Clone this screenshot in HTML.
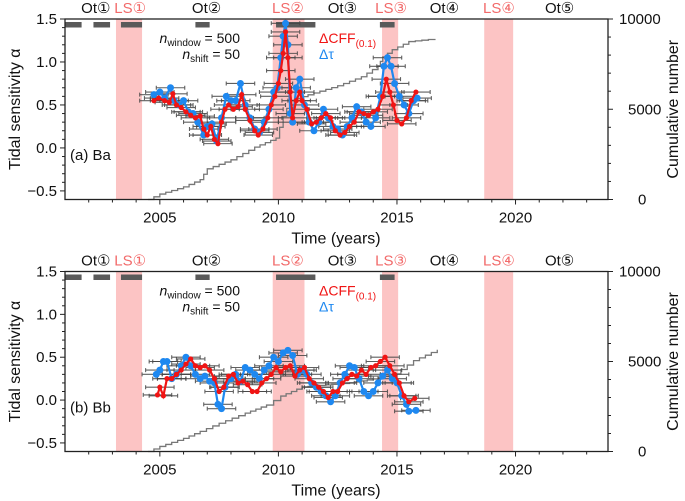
<!DOCTYPE html>
<html><head><meta charset="utf-8">
<style>
html,body{margin:0;padding:0;background:#fff;}
svg{display:block;font-family:"Liberation Sans",sans-serif;}
</style></head>
<body>
<svg id="fig" width="685" height="501" viewBox="0 0 685 501"></svg>
<script>
const xDomain = [2001.0, 2023.9];
const yDomain = [-0.6, 1.5];
const cumDomain = [0, 10000];
const yTicks = [1.5, 1.0, 0.5, 0.0, -0.5];
const yTickLabels = ["1.5", "1.0", "0.5", "0.0", "\u22120.5"];
const xTicks = [2005, 2010, 2015, 2020];
const cumTicks = [10000, 5000, 0];
const lsSpans = [[2003.15, 2004.25], [2009.76, 2011.1], [2014.37, 2015.05], [2018.68, 2019.9]];
const grayBars = [[2001.0, 2001.7], [2002.2, 2002.9], [2003.36, 2004.25], [2006.5, 2007.1], [2009.9, 2011.56], [2014.28, 2014.9]];
const periodNames = ["Ot\u2460", "LS\u2460", "Ot\u2461", "LS\u2461", "Ot\u2462", "LS\u2462", "Ot\u2463", "LS\u2463", "Ot\u2464"];
const periodYears = [2002.3, 2003.75, 2006.97, 2010.4, 2012.7, 2014.75, 2017.0, 2019.3, 2021.86];
const errHalf = 0.6;

const cumA_t = [2004.5, 2005.0, 2006.0, 2006.7, 2007.0, 2008.0, 2009.0, 2009.9, 2010.2, 2010.5, 2011.5, 2012.5, 2013.5, 2014.2, 2014.4, 2014.8, 2015.5, 2016.6];
const cumA_v = [0, 300, 700, 1100, 1700, 2200, 2900, 3400, 4600, 5500, 5900, 6300, 6800, 7400, 7900, 8300, 8750, 8900];
const cumB_t = [2004.5, 2005.0, 2006.0, 2006.7, 2007.5, 2008.6, 2009.5, 2010.1, 2011.0, 2012.0, 2013.0, 2014.0, 2014.9, 2015.7, 2016.7];
const cumB_v = [0, 280, 730, 1120, 1570, 2130, 2580, 3080, 3590, 3700, 3810, 4030, 4310, 5050, 5650];

const redA_t = [2004.75,2004.95,2005.2,2005.4,2005.55,2005.7,2005.9,2006.1,2006.3,2006.5,2006.7,2006.85,2007.0,2007.15,2007.3,2007.45,2007.6,2007.75,2007.9,2008.1,2008.3,2008.45,2008.6,2008.8,2009.0,2009.15,2009.35,2009.55,2009.7,2009.85,2010.0,2010.1,2010.2,2010.3,2010.4,2010.5,2010.6,2010.75,2010.9,2011.0,2011.2,2011.4,2011.6,2011.8,2012.0,2012.2,2012.4,2012.6,2012.8,2013.0,2013.2,2013.4,2013.6,2013.8,2014.0,2014.2,2014.4,2014.55,2014.7,2014.85,2015.0,2015.2,2015.4,2015.6,2015.8];
const redA_v = [0.55,0.58,0.55,0.53,0.63,0.50,0.47,0.42,0.38,0.35,0.37,0.22,0.15,0.25,0.10,0.05,0.30,0.45,0.50,0.45,0.48,0.62,0.45,0.32,0.20,0.15,0.22,0.35,0.50,0.60,0.75,0.90,1.10,1.35,1.05,0.65,0.35,0.55,0.65,0.55,0.45,0.28,0.30,0.35,0.40,0.35,0.20,0.15,0.18,0.25,0.30,0.42,0.40,0.38,0.42,0.45,0.60,0.80,0.65,0.50,0.32,0.28,0.35,0.55,0.65];
const blueA_t = [2004.75,2005.0,2005.2,2005.45,2005.6,2005.8,2006.0,2006.2,2006.4,2006.6,2006.85,2007.0,2007.2,2007.4,2007.6,2007.8,2008.0,2008.2,2008.4,2008.6,2008.8,2009.0,2009.2,2009.4,2009.6,2009.8,2009.95,2010.1,2010.2,2010.3,2010.4,2010.5,2010.6,2010.75,2010.9,2011.1,2011.3,2011.5,2011.7,2011.9,2012.1,2012.3,2012.5,2012.7,2012.9,2013.1,2013.3,2013.5,2013.7,2013.9,2014.1,2014.3,2014.45,2014.6,2014.75,2014.9,2015.1,2015.3,2015.5,2015.7,2015.85];
const blueA_v = [0.62,0.65,0.58,0.70,0.55,0.50,0.55,0.42,0.40,0.30,0.15,0.25,0.28,0.08,0.35,0.60,0.55,0.55,0.75,0.50,0.35,0.22,0.18,0.30,0.45,0.65,0.70,1.05,1.30,1.45,1.20,0.40,0.30,0.70,0.80,0.50,0.30,0.20,0.30,0.45,0.35,0.25,0.22,0.15,0.25,0.35,0.48,0.42,0.30,0.25,0.35,0.60,0.95,1.05,0.95,0.75,0.60,0.50,0.40,0.55,0.58];

const redB_t = [2004.9,2005.0,2005.15,2005.3,2005.5,2005.7,2005.9,2006.1,2006.3,2006.5,2006.7,2006.9,2007.1,2007.3,2007.5,2007.7,2007.9,2008.1,2008.3,2008.5,2008.7,2008.9,2009.1,2009.3,2009.5,2009.7,2009.9,2010.1,2010.3,2010.5,2010.7,2010.9,2011.1,2011.3,2011.5,2011.7,2011.9,2012.1,2012.3,2012.5,2012.7,2012.9,2013.1,2013.3,2013.5,2013.7,2013.9,2014.1,2014.3,2014.5,2014.7,2014.9,2015.1,2015.3,2015.5,2015.75];
const redB_v = [0.06,0.15,0.05,0.25,0.25,0.30,0.35,0.42,0.48,0.40,0.38,0.40,0.35,0.25,0.10,0.15,0.28,0.30,0.20,0.22,0.18,0.10,0.10,0.20,0.25,0.30,0.38,0.33,0.38,0.40,0.28,0.35,0.38,0.25,0.20,0.15,0.10,0.03,0.10,0.10,0.20,0.25,0.30,0.28,0.35,0.30,0.38,0.40,0.45,0.50,0.40,0.30,0.20,0.05,-0.02,0.02];
const blueB_t = [2004.85,2005.0,2005.15,2005.3,2005.5,2005.7,2005.9,2006.1,2006.3,2006.5,2006.7,2006.9,2007.1,2007.3,2007.45,2007.6,2007.75,2008.0,2008.2,2008.4,2008.6,2008.8,2009.0,2009.2,2009.4,2009.6,2009.8,2010.0,2010.2,2010.4,2010.6,2010.8,2011.0,2011.2,2011.4,2011.6,2011.8,2012.0,2012.2,2012.4,2012.6,2012.8,2013.0,2013.2,2013.4,2013.6,2013.8,2014.0,2014.2,2014.4,2014.6,2014.8,2015.0,2015.2,2015.4,2015.5,2015.8];
const blueB_v = [0.30,0.35,0.45,0.45,0.25,0.30,0.40,0.50,0.40,0.30,0.25,0.28,0.22,0.20,-0.05,-0.10,0.15,0.25,0.30,0.22,0.38,0.35,0.30,0.25,0.35,0.40,0.50,0.45,0.55,0.58,0.52,0.30,0.35,0.30,0.20,0.15,0.10,0.05,-0.02,0.05,0.20,0.30,0.40,0.38,0.25,0.10,0.05,0.10,0.20,0.28,0.35,0.25,0.20,0.05,-0.05,-0.13,-0.12];

const NS = "http://www.w3.org/2000/svg";
const svg = document.getElementById('fig');
function mk(tag, attrs, parent){
  const e = document.createElementNS(NS, tag);
  for (const k in attrs) e.setAttribute(k, attrs[k]);
  (parent || svg).appendChild(e);
  return e;
}
const L = 65, R = 608;
function xs(t){ return L + (t - xDomain[0]) / (xDomain[1] - xDomain[0]) * (R - L); }

function panel(top, bottom, tag, cumT, cumV, redT, redV, blueT, blueV){
  const g = mk('g', {});
  
  
  const ys = v => bottom - (v - yDomain[0]) / (yDomain[1] - yDomain[0]) * (bottom - top);
  const cs = v => bottom - (v - cumDomain[0]) / (cumDomain[1] - cumDomain[0]) * (bottom - top);

  lsSpans.forEach((s, i) => {
    const r = mk('rect', {x: xs(s[0]), y: top, width: xs(s[1]) - xs(s[0]), height: bottom - top, fill: '#fcc4c4'}, g);
    
    
  });
  grayBars.forEach(s => {
    const r = mk('rect', {x: xs(s[0]), y: top + 3, width: xs(s[1]) - xs(s[0]), height: 5.5, fill: '#5a5a5a'}, g);
    
    
  });
  periodNames.forEach((n, i) => {
    const t = mk('text', {x: xs(periodYears[i]), y: top - 6, 'text-anchor': 'middle', 'font-size': 15, fill: n.startsWith('LS') ? '#f26a6a' : '#111'}, g);
    t.textContent = n;
    
    
  });

  let d = '';
  cumT.forEach((t, i) => {
    if (i === 0) d += 'M' + xs(t) + ',' + cs(cumV[i]);
    else {
      const x0 = xs(cumT[i-1]), x1 = xs(t), y0 = cs(cumV[i-1]), y1 = cs(cumV[i]);
      const n = Math.max(2, Math.round((x1 - x0) / 6));
      for (let k = 1; k <= n; k++) {
        const xx = x0 + (x1 - x0) * k / n, yy = y0 + (y1 - y0) * k / n;
        d += 'H' + xx + 'V' + yy;
      }
    }
  });
  const cum = mk('path', {d: d, fill: 'none', stroke: '#777', 'stroke-width': 1.3}, g);
  
  

  function errs(T, V){
    T.forEach((t, i) => {
      const y = ys(V[i]), x0 = xs(t - errHalf), x1 = xs(t + errHalf);
      const e = mk('path', {d: `M${x0},${y}H${x1}M${x0},${y-2}V${y+2}M${x1},${y-2}V${y+2}`, stroke: '#444', 'stroke-width': 1.1, fill: 'none', opacity: 0.85}, g);
      
      
    });
  }
  errs(blueT, blueV); errs(redT, redV);

  function series(T, V, color, r, name){
    const p = mk('polyline', {points: T.map((t, i) => xs(t) + ',' + ys(V[i])).join(' '), fill: 'none', stroke: color, 'stroke-width': 2.2}, g);
    
    
    T.forEach((t, i) => {
      const c = mk('circle', {cx: xs(t), cy: ys(V[i]), r: r, fill: color}, g);
      
      
    });
  }
  series(blueT, blueV, '#1e88f0', 3.5, 'dtau');
  series(redT, redV, '#f01414', 2.6, 'dcff');

  const fr = mk('rect', {x: L, y: top, width: R - L, height: bottom - top, fill: 'none', stroke: '#222', 'stroke-width': 1.3}, g);
  
  

  for (let v = -0.5; v <= 1.501; v += 0.1) {
    const major = Math.abs(v * 2 - Math.round(v * 2)) < 1e-6;
    mk('line', {x1: L, x2: L - (major ? 5 : 3), y1: ys(v), y2: ys(v), stroke: '#222', 'stroke-width': 1}, g);
  }
  yTicks.forEach((v, i) => {
    const t = mk('text', {x: L - 8, y: ys(v) + 5, 'text-anchor': 'end', 'font-size': 15, fill: '#111'}, g);
    t.textContent = yTickLabels[i];
    
    
  });
  for (let yr = 2002; yr <= 2023; yr++) {
    mk('line', {x1: xs(yr), x2: xs(yr), y1: bottom, y2: bottom + (yr % 5 === 0 ? 5 : 3), stroke: '#222', 'stroke-width': 1}, g);
  }
  xTicks.forEach(yr => {
    const t = mk('text', {x: xs(yr), y: bottom + 23, 'text-anchor': 'middle', 'font-size': 15, fill: '#111'}, g);
    t.textContent = String(yr);
    
    
  });
  for (let c = 0; c <= 10000; c += 1000) {
    mk('line', {x1: R, x2: R + (c % 5000 === 0 ? 5 : 3), y1: cs(c), y2: cs(c), stroke: '#222', 'stroke-width': 1}, g);
  }
  cumTicks.forEach(c => {
    const t = mk('text', {x: c === 0 ? 638 : (c === 5000 ? 628 : 619), y: cs(c) + 5, 'text-anchor': 'start', 'font-size': 15, fill: '#111'}, g);
    t.textContent = String(c);
    
    
  });

  const yt = mk('text', {x: 0, y: 0, transform: `translate(20,${(top + bottom) / 2}) rotate(-90)`, 'text-anchor': 'middle', 'font-size': 16, fill: '#111'}, g);
  yt.textContent = 'Tidal sensitivity \u03b1';
  
  
  const rt = mk('text', {x: 0, y: 0, transform: `translate(678,${(top + bottom) / 2}) rotate(-90)`, 'text-anchor': 'middle', 'font-size': 16, fill: '#111'}, g);
  rt.textContent = 'Cumulative number';
  
  
  const xt = mk('text', {x: 336, y: bottom + 44, 'text-anchor': 'middle', 'font-size': 16, fill: '#111'}, g);
  xt.textContent = 'Time (years)';
  
  

  const pl = mk('text', {x: 70, y: top + 141, 'font-size': 15, fill: '#111'}, g);
  pl.textContent = tag === 'a' ? '(a) Ba' : '(b) Bb';
  
  
  const n1 = mk('text', {x: 240, y: top + 24, 'text-anchor': 'end', 'font-size': 14, fill: '#111'}, g);
  n1.innerHTML = '<tspan font-style="italic">n</tspan><tspan font-size="10" dy="3">window</tspan><tspan dy="-3"> = 500</tspan>';
  
  
  const n2 = mk('text', {x: 240, y: top + 40, 'text-anchor': 'end', 'font-size': 14, fill: '#111'}, g);
  n2.innerHTML = '<tspan font-style="italic">n</tspan><tspan font-size="10" dy="3">shift</tspan><tspan dy="-3"> = 50</tspan>';
  
  
  const l1 = mk('text', {x: 319, y: top + 24, 'font-size': 14, fill: '#f01414'}, g);
  l1.innerHTML = '\u0394CFF<tspan font-size="10" dy="4">(0.1)</tspan>';
  
  
  const l2 = mk('text', {x: 319, y: top + 40, 'font-size': 14, fill: '#1e88f0'}, g);
  l2.textContent = '\u0394\u03c4';
  
  
}

panel(19, 199.5, 'a', cumA_t, cumA_v, redA_t, redA_v, blueA_t, blueA_v);
panel(271.5, 451.5, 'b', cumB_t, cumB_v, redB_t, redB_v, blueB_t, blueB_v);
</script>
</body></html>
